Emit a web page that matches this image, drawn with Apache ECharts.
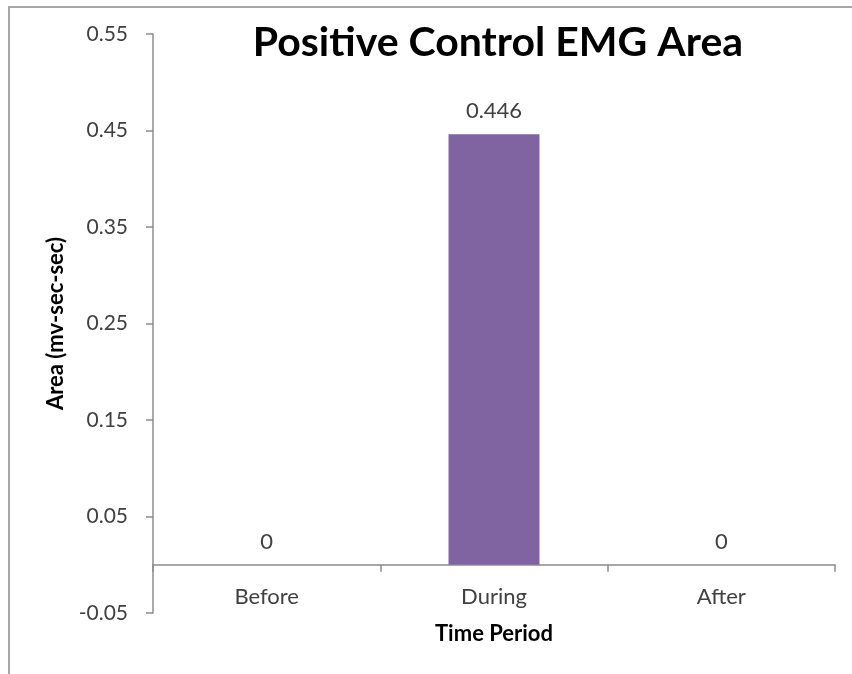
<!DOCTYPE html>
<html>
<head>
<meta charset="utf-8">
<script src="https://cdn.jsdelivr.net/npm/echarts@6/dist/echarts.min.js"></script>
<style>
  html, body { margin: 0; padding: 0; background: #fff; }
  .wrap { position: relative; width: 852px; height: 674px; overflow: hidden; }
  .frame {
    position: absolute; left: 8px; top: 6px; right: -4px; bottom: -4px;
    border-top: 2px solid #a6a6a6; border-left: 2px solid #a6a6a6;
  }
  #chart { position: absolute; left: 0; top: 0; width: 852px; height: 674px; }
</style>
</head>
<body>
<div class="wrap">
  <div class="frame"></div>
  <div id="chart"></div>
</div>
<script>
// chart data
const periods = ['Before', 'During', 'After']
const areaValues = [0, 0.446, 0]
const yTicks = { min: -0.05, max: 0.55, step: 0.1 }

const chart = echarts.init(document.getElementById('chart'))
const font = 'Lato, "Open Sans", sans-serif'

const option = {
  backgroundColor: 'transparent',
  title: {
    text: 'Positive Control EMG Area',
    left: 493,
    top: 17,
    textAlign: 'center',
    textStyle: { fontFamily: font, fontSize: 41, fontWeight: 'bold', color: '#000' }
  },
  grid: { left: 153, right: 17, top: 34, bottom: 61, outerBoundsMode: 'none' },
  xAxis: {
    type: 'category',
    data: periods,
    name: 'Time Period',
    nameLocation: 'middle',
    nameGap: 10,
    nameTextStyle: { fontFamily: font, fontSize: 22, fontWeight: 'bold', color: '#000' },
    axisLine: { onZero: true, lineStyle: { color: '#8c8c8c', width: 1.5 } },
    axisTick: { show: true, length: 7, inside: false, lineStyle: { color: '#8c8c8c', width: 1.5 } },
    axisLabel: { fontFamily: font, fontSize: 22, color: '#404040', margin: -27 }
  },
  yAxis: {
    type: 'value',
    min: yTicks.min,
    max: yTicks.max,
    interval: yTicks.step,
    name: 'Area (mv-sec-sec)',
    nameLocation: 'middle',
    nameGap: 86,
    nameTextStyle: { fontFamily: font, fontSize: 22, fontWeight: 'bold', color: '#000' },
    axisLine: { show: true, lineStyle: { color: '#8c8c8c', width: 1.5 } },
    axisTick: { show: true, length: 7, lineStyle: { color: '#8c8c8c', width: 1.5 } },
    axisLabel: {
      fontFamily: font, fontSize: 21, color: '#404040', margin: 25,
      formatter: v => v.toFixed(2)
    },
    splitLine: { show: false }
  },
  series: [
    {
      type: 'bar',
      data: areaValues,
      barWidth: '40%',
      itemStyle: { color: '#8064a2' },
      label: {
        show: true,
        position: 'top',
        distance: 12,
        fontFamily: font,
        fontSize: 22,
        color: '#404040'
      }
    }
  ]
}

chart.setOption(option)
</script>
</body>
</html>
